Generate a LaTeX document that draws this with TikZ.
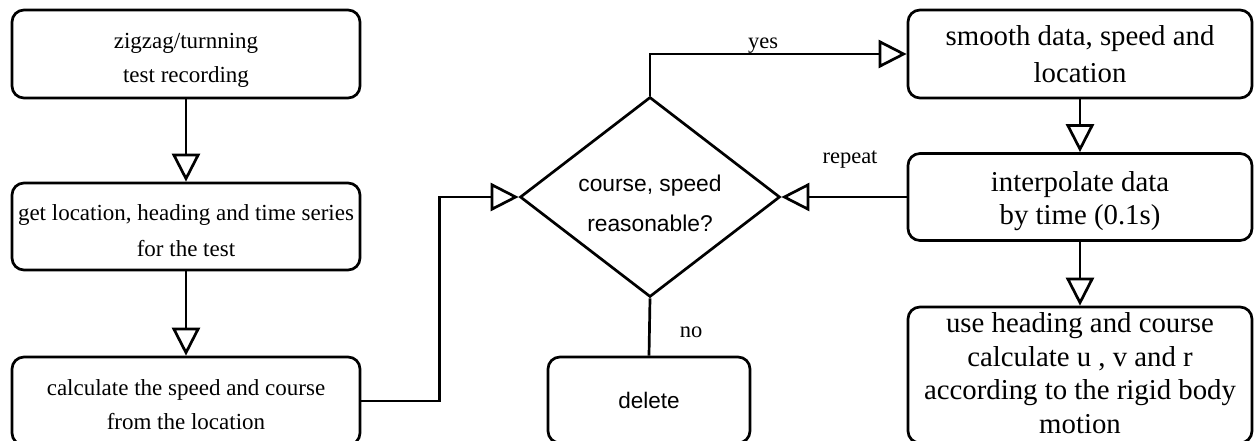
\documentclass[tikz,border=0pt]{standalone}
\usepackage{fontspec}
\setmainfont{Liberation Serif}
\newfontfamily\diasans{Liberation Sans}
\usetikzlibrary{arrows.meta,shapes.geometric}
\begin{document}
\begin{tikzpicture}[x=1pt,y=-1pt, line width=2.7pt,
 box/.style={draw, rounded corners=12pt, inner sep=0pt},
 lbox/.style={box, minimum width=348pt, minimum height=88pt},
 rbox/.style={box, minimum width=344pt},
 ltext/.style={align=center, inner sep=0pt, font=\fontsize{23}{34}\selectfont},
 rtext/.style={align=center, inner sep=0pt, font=\fontsize{28.8}{33.5}\selectfont},
 flow/.style={-{Triangle[open,length=28pt,width=28pt]}},
 lab/.style={font=\fontsize{22.5}{27}\selectfont, anchor=base, inner sep=0pt}]
\useasboundingbox (0,0) rectangle (1254,440);
\fill[white] (0,0) rectangle (1254,440);
% left column
\node[lbox] (b1) at (186,54) {};
\node[ltext] (b1t) at ([yshift=-6.5pt]b1.center) {zigzag/turnning\\test recording};
\node[lbox, minimum height=87pt] (b2) at (186,226.5) {};
\node[ltext, font=\fontsize{23}{35.5}\selectfont] (b2t) at ([yshift=-4pt]b2.center) {get location, heading and time series\\for the test};
\node[lbox] (b3) at (186,401) {};
\node[ltext] (b3t) at ([yshift=-3.5pt]b3.center) {calculate the speed and course\\from the location};
% decision
\node[draw, diamond, minimum width=260pt, minimum height=200pt, inner sep=0pt] (dia) at (650,197) {};
\node[font=\diasans\fontsize{22.8}{40}\selectfont, align=center, inner sep=0pt] (diatext) at ([yshift=-6pt]dia.center) {course, speed\\reasonable?};
\node[box, font=\diasans\fontsize{22.5}{27}\selectfont, minimum width=202pt, minimum height=86pt] (del) at (649,400) {delete};
% right column
\node[rbox, minimum height=88pt] (s1) at (1080,54) {};
\node[rtext, font=\fontsize{28.8}{37}\selectfont] (s1t) at (s1.center) {smooth data, speed and\\location};
\node[rbox, minimum height=87pt] (s2) at (1080,197) {};
\node[rtext, font=\fontsize{28.8}{33}\selectfont] (s2t) at ([yshift=-4.5pt]s2.center) {interpolate data\\by time (0.1s)};
\node[rbox, minimum height=136pt] (s3) at (1080,375) {};
\node[rtext] (s3t) at ([yshift=2pt]s3.center) {use heading and course\\calculate u , v and r\\according to the rigid body\\motion};
% connectors
\draw[flow] (b1.south) -- (b2.north);
\draw[flow] (b2.south) -- (b3.north);
\draw[flow] (b3.east) -- ++(78,0) |- (dia.west);
\draw[flow] (dia.north) |- (s1.west);
\draw[flow] (s1.south) -- (s2.north);
\draw[flow] (s2.south) -- (s3.north);
\draw[flow] (s2.west) -- (dia.east);
\draw (dia.south) -- (del.north);
% labels
\node[lab] (yes) at (763,48) {yes};
\node[lab] (no) at (691,337) {no};
\node[lab] (rep) at (850,163) {repeat};
\end{tikzpicture}
\end{document}
